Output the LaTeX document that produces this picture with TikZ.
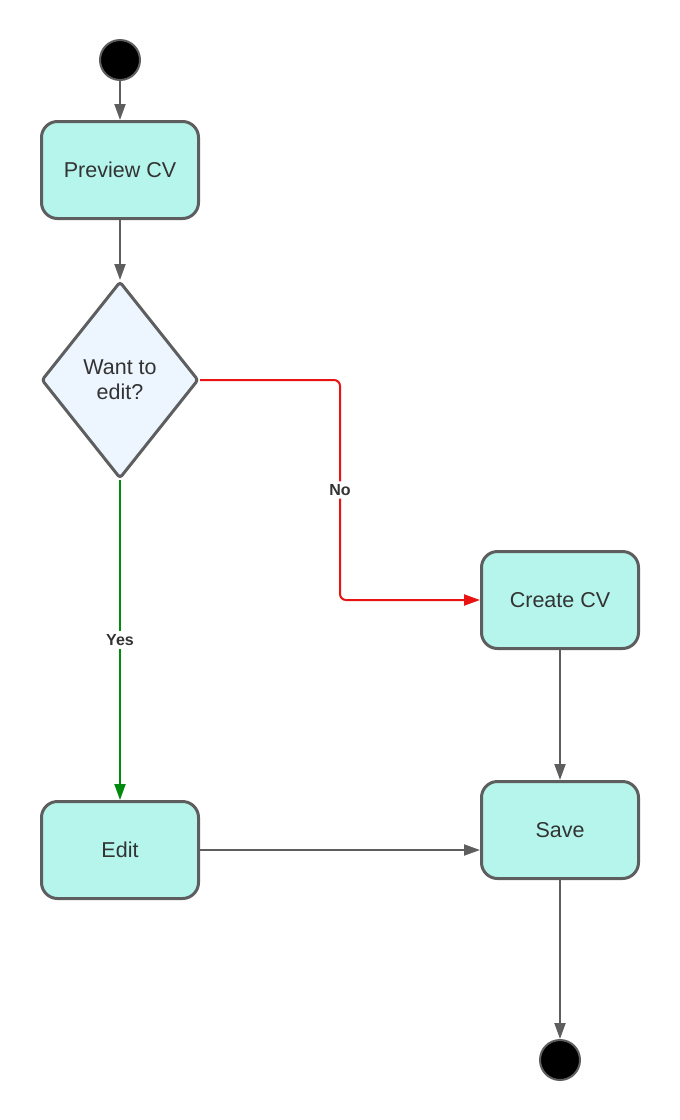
\documentclass[tikz,border=0pt]{standalone}
\usepackage{fontspec}
\setmainfont{Liberation Sans}
\usetikzlibrary{arrows.meta,shapes.geometric}
\definecolor{stroke}{HTML}{5E5E5E}
\definecolor{boxfill}{HTML}{B5F5EC}
\definecolor{askfill}{HTML}{EDF5FF}
\definecolor{txt}{HTML}{333333}
\definecolor{nored}{HTML}{E81313}
\definecolor{yesgreen}{HTML}{008A0E}

\begin{document}
\begin{tikzpicture}
      [x = 1pt, y = -1pt,
      link/.style={
         color = stroke,
         line width = 2pt,
         -{Triangle[length = 16pt, width = 11pt]}
      },
      state/.style= {
         draw = stroke,
         fill = boxfill,
         line width = 3pt,
         rounded corners = 16pt,
         minimum width = 157pt,
         minimum height = 97pt,
         text = txt,
         font = \fontsize{21.5}{25}\selectfont
      },
      ask/.style= {
         draw = stroke,
         fill = askfill,
         line width = 3pt,
         diamond,
         rounded corners = 3pt,
         minimum width = 157pt,
         minimum height = 197pt,
         inner sep = 0pt,
         align = center,
         text = txt,
         font = \fontsize{21.5}{25}\selectfont
      },
      terminal/.style= {
         draw = stroke,
         fill = black,
         circle,
         line width = 2pt,
         inner sep = 0pt,
         minimum size = 40pt
      },
      lbl/.style= {
         fill = white,
         text = txt,
         inner sep = 3pt,
         font = \fontsize{16}{18}\selectfont\bfseries
      }]
      \useasboundingbox (0, 0) rectangle (680, 1120);

      \node[terminal] (start) at (120, 60) {};
      \node[state] (preview) at (120, 170) {Preview CV};
      \node[ask] (want) at (120, 380) {Want to\\edit?};
      \node[state] (create) at (560, 600) {Create CV};
      \node[state] (edit) at (120, 850) {Edit};
      \node[state] (save) at (560, 830) {Save};
      \node[terminal] (stop) at (560, 1060) {};

      \draw[link] (start) -- (preview);
      \draw[link] (preview) -- (want);
      \draw[link, color = nored, rounded corners = 6pt]
         (want.east) -| (340, 600) node[lbl, pos = 0.75] {No} -- (create.west);
      \draw[link, color = yesgreen]
         (want.south) -- node[lbl] {Yes} (edit.north);
      \draw[link] (edit.east) -- (edit.east -| save.west);
      \draw[link] (create) -- (save);
      \draw[link] (save) -- (stop);

   \end{tikzpicture}
\end{document}
